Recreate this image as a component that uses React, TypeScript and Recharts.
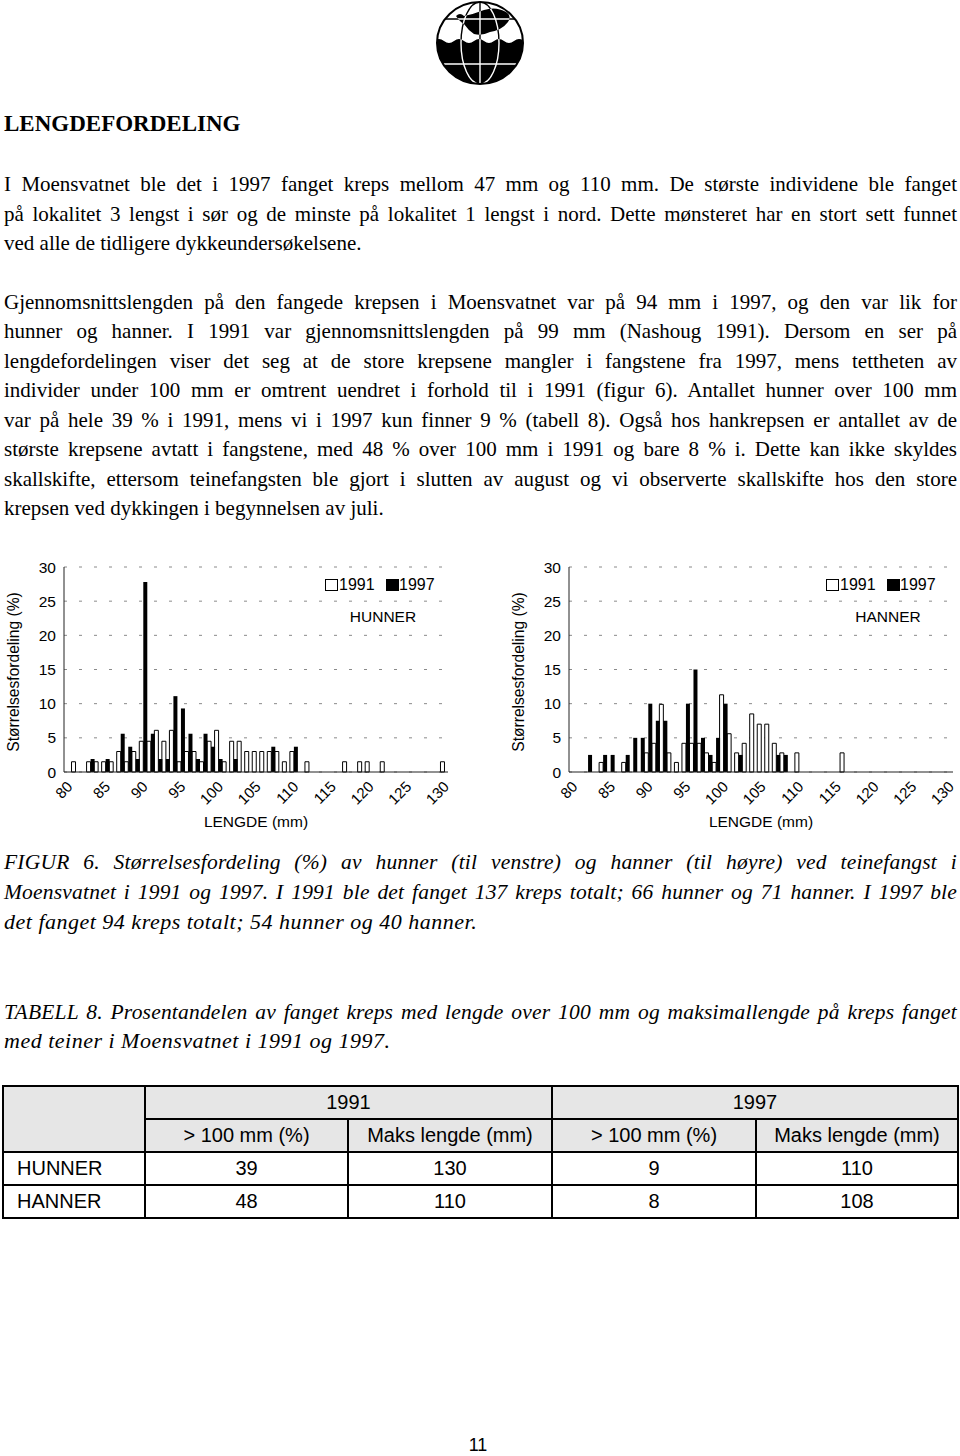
import React from 'react';
import { BarChart, Bar, XAxis, YAxis, CartesianGrid } from 'recharts';

// length classes (mm)
const lengths = [
  80, 81, 82, 83, 84, 85, 86, 87, 88, 89,
  90, 91, 92, 93, 94, 95, 96, 97, 98, 99,
  100, 101, 102, 103, 104, 105, 106, 107, 108, 109,
  110, 111, 112, 113, 114, 115, 116, 117, 118, 119,
  120, 121, 122, 123, 124, 125, 126, 127, 128, 129,
  130,
];
const xTickLabels = [80, 85, 90, 95, 100, 105, 110, 115, 120, 125, 130];
const yTicks = [0, 5, 10, 15, 20, 25, 30];

// size distribution (%), females
const hunner1991 = [
  0, 1.5, 0, 1.5, 1.5, 1.5, 1.5, 3.0, 1.5, 3.0,
  4.5, 4.5, 6.1, 4.5, 6.1, 1.5, 3.0, 3.0, 1.5, 4.5,
  6.1, 1.5, 4.5, 4.5, 3.0, 3.0, 3.0, 3.0, 3.0, 1.5,
  3.0, 0, 1.5, 0, 0, 0, 0, 1.5, 0, 1.5,
  1.5, 0, 1.5, 0, 0, 0, 0, 0, 0, 0,
  1.5,
];
const hunner1997 = [
  0, 0, 0, 1.9, 0, 1.9, 0, 5.6, 3.7, 1.9,
  27.8, 5.6, 1.9, 1.9, 11.1, 9.3, 5.6, 1.9, 5.6, 3.7,
  1.9, 0, 1.9, 0, 0, 0, 0, 3.7, 0, 0,
  3.7, 0, 0, 0, 0, 0, 0, 0, 0, 0,
  0, 0, 0, 0, 0, 0, 0, 0, 0, 0,
  0,
];

// size distribution (%), males
const hanner1991 = [
  0, 0, 0, 0, 1.4, 0, 0, 1.4, 0, 0,
  2.8, 4.2, 9.9, 2.8, 1.4, 4.2, 4.2, 4.2, 2.8, 1.4,
  11.3, 5.6, 2.8, 4.2, 8.5, 7.0, 7.0, 4.2, 2.8, 0,
  2.8, 0, 0, 0, 0, 0, 2.8, 0, 0, 0,
  0, 0, 0, 0, 0, 0, 0, 0, 0, 0,
  0,
];
const hanner1997 = [
  0, 0, 2.5, 0, 2.5, 2.5, 0, 2.5, 5.0, 5.0,
  10.0, 7.5, 7.5, 0, 0, 10.0, 15.0, 5.0, 2.5, 5.0,
  10.0, 0, 2.5, 0, 0, 0, 0, 2.5, 2.5, 0,
  0, 0, 0, 0, 0, 0, 0, 0, 0, 0,
  0, 0, 0, 0, 0, 0, 0, 0, 0, 0,
  0,
];

// table 8
const tableRows = ['HUNNER', 'HANNER'];
const over100_1991 = [39, 48];
const maks_1991 = [130, 110];
const over100_1997 = [9, 8];
const maks_1997 = [110, 108];

const SERIF = '"Liberation Serif", "Times New Roman", serif';
const SANS = '"Liberation Sans", Arial, sans-serif';

function TextLine({ y, text, justify = false, italic = false, bold = false, size = 21 }: any) {
  const lh = 30;
  // italic captions in the source run slightly wider than the body face
  const fs = italic ? (justify ? 21.5 : 22) : size;
  const ls = italic ? (justify ? 0.2 : 0.5) : 0;
  const top = y - (lh / 2 + 0.3375 * fs);
  return (
    <div
      style={{
        position: 'absolute',
        left: 4,
        top,
        width: 953,
        height: lh,
        lineHeight: `${lh}px`,
        fontFamily: SERIF,
        fontSize: fs,
        letterSpacing: ls,
        whiteSpace: justify ? 'normal' : 'nowrap',
        fontStyle: italic ? 'italic' : 'normal',
        fontWeight: bold ? 'bold' : 'normal',
        textAlign: justify ? 'justify' : 'left',
        textAlignLast: justify ? 'justify' : 'left',
        color: '#000',
      } as any}
    >
      {text}
    </div>
  );
}

const LengthTick = (props: any) => {
  const { x, y, payload } = props;
  if (!xTickLabels.includes(payload.value)) return null;
  return (
    <g transform={`translate(${x + 2},${y + 4})`}>
      <text textAnchor="end" transform="rotate(-45)" dy="0.35em" fontSize={15} fill="#000">
        {payload.value}
      </text>
    </g>
  );
};

function SizeChart({ left, data1991, data1997, sex, legendX }: any) {
  const rows = lengths.map((len, i) => ({ len, y1991: data1991[i], y1997: data1997[i] }));
  return (
    <div style={{ position: 'absolute', left, top: 555, width: 470, height: 290, fontFamily: SANS }}>
      <BarChart
        width={470}
        height={290}
        data={rows}
        margin={{ top: 12, right: 22, bottom: 33, left: 0 }}
        barGap={0}
        barCategoryGap={0}
      >
        <CartesianGrid vertical={false} stroke="#8a8a8a" strokeDasharray="3 12" />
        <XAxis
          dataKey="len"
          interval={0}
          tick={<LengthTick />}
          tickLine={false}
          axisLine={{ stroke: '#222' }}
          height={40}
          label={{ value: 'LENGDE (mm)', position: 'bottom', offset: 4, fontSize: 15.5, fill: '#000' }}
        />
        <XAxis xAxisId="top" dataKey="len" orientation="top" height={0} tick={false} tickLine={false} axisLine={{ stroke: '#555' }} />
        <YAxis
          domain={[0, 30]}
          ticks={yTicks}
          width={64}
          tickLine={false}
          axisLine={{ stroke: '#222' }}
          tick={{ fontSize: 15.5, fill: '#000' }}
        />
        <YAxis yAxisId="right" orientation="right" width={0} domain={[0, 30]} tick={false} tickLine={false} axisLine={{ stroke: '#555' }} />
        <Bar dataKey="y1991" fill="#fff" stroke="#000" strokeWidth={1} isAnimationActive={false} />
        <Bar dataKey="y1997" fill="#000" isAnimationActive={false} />
      </BarChart>

      {/* y axis title */}
      <div
        style={{
          position: 'absolute', left: 14 - 110, top: 117 - 10, width: 220, height: 20,
          lineHeight: '20px', textAlign: 'center', fontSize: 15.6, transform: 'rotate(-90deg)',
        }}
      >
        Størrelsesfordeling (%)
      </div>

      {/* legend */}
      <div style={{ position: 'absolute', left: legendX, top: 24, width: 13, height: 12, border: '1px solid #000', background: '#fff', boxSizing: 'border-box' }} />
      <div style={{ position: 'absolute', left: legendX + 14, top: 20, lineHeight: '20px', fontSize: 16 }}>1991</div>
      <div style={{ position: 'absolute', left: legendX + 61, top: 24, width: 13, height: 12, background: '#000' }} />
      <div style={{ position: 'absolute', left: legendX + 74, top: 20, lineHeight: '20px', fontSize: 16 }}>1997</div>
      <div style={{ position: 'absolute', left: 333, top: 52, width: 100, lineHeight: '20px', fontSize: 15.5, textAlign: 'center' }}>
        {sex}
      </div>
    </div>
  );
}

function Logo() {
  return (
    <svg width={92} height={88} viewBox="0 0 92 88" style={{ position: 'absolute', left: 434, top: 0 }}>
      <defs>
        <clipPath id="globeClip">
          <ellipse cx={46} cy={43} rx={43} ry={41} />
        </clipPath>
      </defs>
      <g clipPath="url(#globeClip)">
        <rect width={92} height={88} fill="#fff" />
        <path
          d="M0 41 Q5 37 10 41 T20 41 T30 41 T40 41 T50 41 T60 41 T70 41 T80 41 T90 41 L92 88 L0 88 Z"
          fill="#000"
        />
        <path
          d="M22 16 Q26 12 30 16 Q40 14 50 10 Q62 6 72 12 Q78 16 74 22 Q68 30 56 32 Q48 36 40 34 Q34 30 30 24 Q26 22 22 16 Z"
          fill="#000"
        />
        <g style={{ mixBlendMode: 'difference' }} stroke="#fff" strokeWidth={1.4} fill="none">
          <line x1={46} y1={0} x2={46} y2={88} />
          <ellipse cx={46} cy={43} rx={19} ry={41} />
          <line x1={0} y1={19} x2={92} y2={19} />
          <line x1={0} y1={64} x2={92} y2={64} />
        </g>
      </g>
      <ellipse cx={46} cy={43} rx={43} ry={41} fill="none" stroke="#000" strokeWidth={2} />
    </svg>
  );
}

const cellBorder = '2px solid #000';
const tdBase: any = { border: cellBorder, fontFamily: SANS, fontSize: 20, textAlign: 'center', padding: 0, color: '#000' };
const headBg = '#e6e6e6';

function Table8() {
  return (
    <table
      style={{
        position: 'absolute', left: 2, top: 1085, width: 955, borderCollapse: 'collapse', tableLayout: 'fixed',
      }}
    >
      <colgroup>
        <col style={{ width: 142 }} />
        <col style={{ width: 203 }} />
        <col style={{ width: 204 }} />
        <col style={{ width: 204 }} />
        <col style={{ width: 202 }} />
      </colgroup>
      <tbody>
        <tr style={{ height: 33 }}>
          <td rowSpan={2} style={{ ...tdBase, background: headBg }} />
          <td colSpan={2} style={{ ...tdBase, background: headBg }}>1991</td>
          <td colSpan={2} style={{ ...tdBase, background: headBg }}>1997</td>
        </tr>
        <tr style={{ height: 33 }}>
          <td style={{ ...tdBase, background: headBg }}>&gt; 100 mm (%)</td>
          <td style={{ ...tdBase, background: headBg }}>Maks lengde (mm)</td>
          <td style={{ ...tdBase, background: headBg }}>&gt; 100 mm (%)</td>
          <td style={{ ...tdBase, background: headBg }}>Maks lengde (mm)</td>
        </tr>
        {tableRows.map((r, i) => (
          <tr key={r} style={{ height: 33 }}>
            <td style={{ ...tdBase, textAlign: 'left', paddingLeft: 13 }}>{r}</td>
            <td style={tdBase}>{over100_1991[i]}</td>
            <td style={tdBase}>{maks_1991[i]}</td>
            <td style={tdBase}>{over100_1997[i]}</td>
            <td style={tdBase}>{maks_1997[i]}</td>
          </tr>
        ))}
      </tbody>
    </table>
  );
}

export default function App() {
  return (
    <div style={{ position: 'absolute', left: 0, top: 0, width: 960, height: 1456, background: '#fff', overflow: 'hidden' }}>
      <Logo />

      <TextLine y={132} size={23} bold text="LENGDEFORDELING" />

      <TextLine y={191} justify text="I Moensvatnet ble det i 1997 fanget kreps mellom 47 mm og 110 mm. De største individene ble fanget" />
      <TextLine y={221} justify text="på lokalitet 3 lengst i sør og de minste på lokalitet 1 lengst i nord. Dette mønsteret har en stort sett funnet" />
      <TextLine y={250.5} text="ved alle de tidligere dykkeundersøkelsene." />

      <TextLine y={309} justify text="Gjennomsnittslengden på den fangede krepsen i Moensvatnet var på 94 mm i 1997, og den var lik for" />
      <TextLine y={338.5} justify text="hunner og hanner. I 1991 var gjennomsnittslengden på 99 mm (Nashoug 1991). Dersom en ser på" />
      <TextLine y={368} justify text="lengdefordelingen viser det seg at de store krepsene mangler i fangstene fra 1997, mens tettheten av" />
      <TextLine y={397.5} justify text="individer under 100 mm er omtrent uendret i forhold til i 1991 (figur 6). Antallet hunner over 100 mm" />
      <TextLine y={427} justify text="var på hele 39 % i 1991, mens vi i 1997 kun finner 9 % (tabell 8). Også hos hankrepsen er antallet av de" />
      <TextLine y={456.5} justify text="største krepsene avtatt i fangstene, med 48 % over 100 mm i 1991 og bare 8 % i. Dette kan ikke skyldes" />
      <TextLine y={486} justify text="skallskifte, ettersom teinefangsten ble gjort i slutten av august og vi observerte skallskifte hos den store" />
      <TextLine y={515.5} text="krepsen ved dykkingen i begynnelsen av juli." />

      <SizeChart left={0} data1991={hunner1991} data1997={hunner1997} sex="HUNNER" legendX={325} />
      <SizeChart left={505} data1991={hanner1991} data1997={hanner1997} sex="HANNER" legendX={321} />

      <TextLine y={869} italic justify text="FIGUR 6. Størrelsesfordeling (%) av hunner (til venstre) og hanner (til høyre) ved teinefangst i" />
      <TextLine y={899} italic justify text="Moensvatnet i 1991 og 1997. I 1991 ble det fanget 137 kreps totalt; 66 hunner og 71 hanner. I 1997 ble" />
      <TextLine y={929} italic text="det fanget 94 kreps totalt; 54 hunner og 40 hanner." />

      <TextLine y={1019} italic justify text="TABELL 8. Prosentandelen av fanget kreps med lengde over 100 mm og maksimallengde på kreps fanget" />
      <TextLine y={1048} italic text="med teiner i Moensvatnet i 1991 og 1997." />

      <Table8 />

      <div style={{ position: 'absolute', left: 428, top: 1434, width: 100, textAlign: 'center', fontFamily: SANS, fontSize: 18, lineHeight: '22px' }}>
        11
      </div>
    </div>
  );
}
